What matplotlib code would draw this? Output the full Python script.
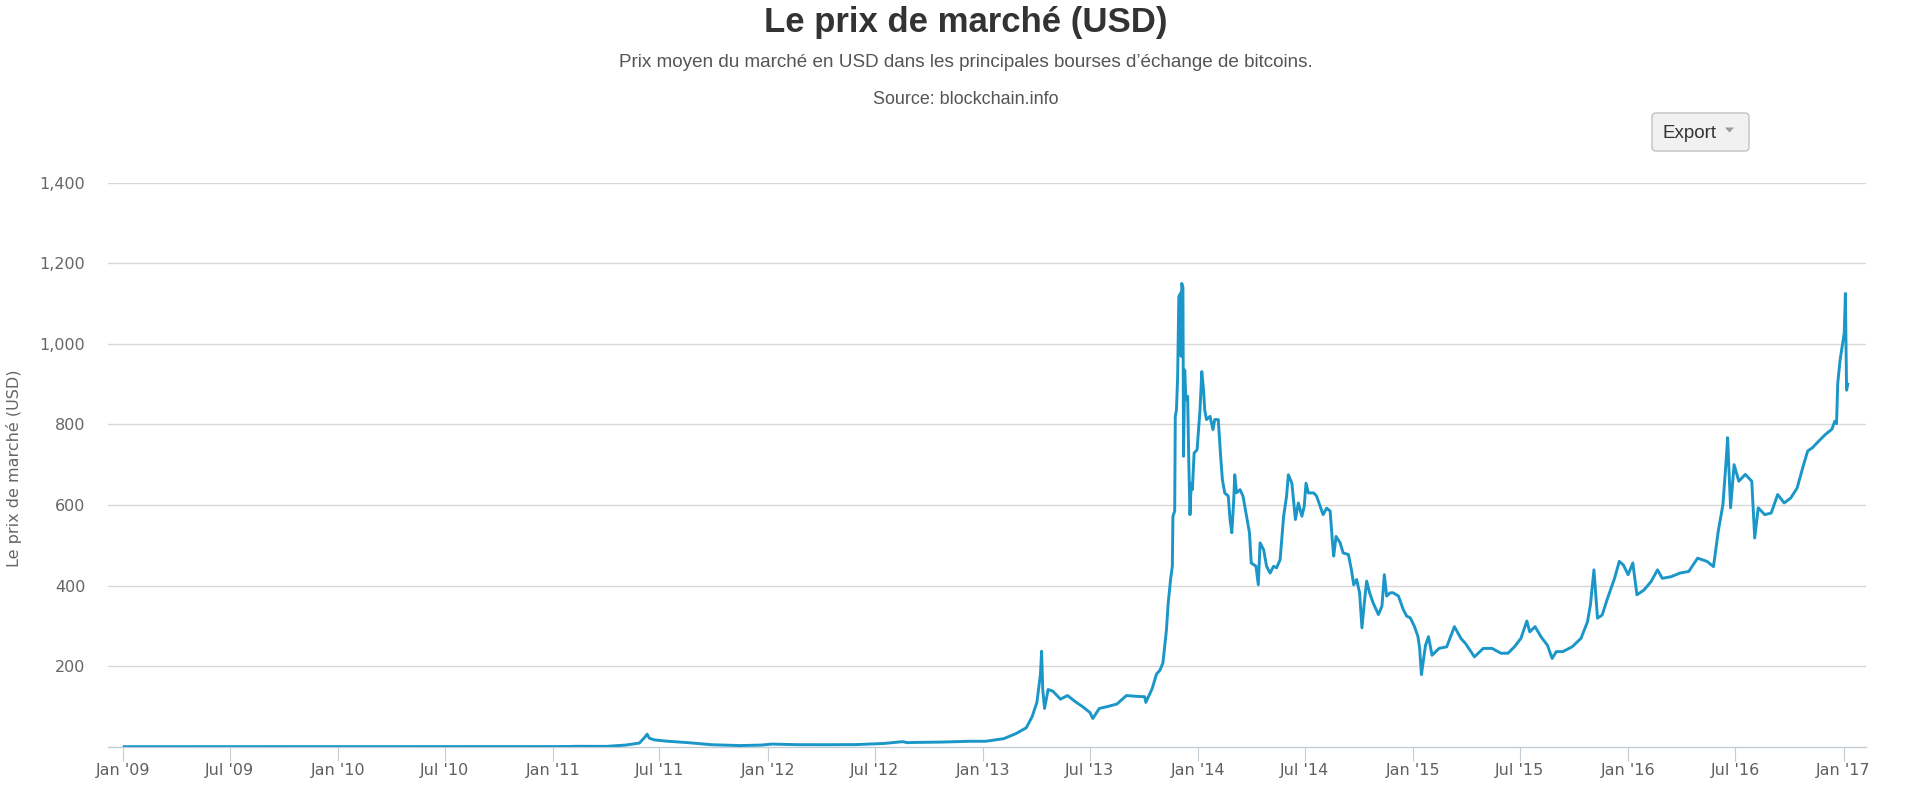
import numpy as np
import matplotlib
matplotlib.use("Agg")
import matplotlib.pyplot as plt
import matplotlib.dates as mdates
from matplotlib.patches import FancyBboxPatch, Polygon
from matplotlib.transforms import IdentityTransform
from matplotlib.ticker import FuncFormatter

# prix moyen du bitcoin (USD)
dates = [
    "2009-01-03", "2010-07-17", "2010-11-06", "2010-12-31",
    "2011-01-27", "2011-02-10", "2011-04-01", "2011-05-04", "2011-05-28", "2011-06-07",
    "2011-06-10", "2011-06-14", "2011-06-22", "2011-07-11", "2011-08-19", "2011-09-27",
    "2011-11-15", "2011-12-20",
    "2012-01-08", "2012-02-20", "2012-04-09", "2012-05-28", "2012-07-16", "2012-08-17",
    "2012-08-25", "2012-09-03", "2012-10-22", "2012-12-10",
    "2013-01-05", "2013-02-05", "2013-02-26", "2013-03-15", "2013-03-25", "2013-04-02",
    "2013-04-08", "2013-04-10", "2013-04-12", "2013-04-15", "2013-04-21", "2013-04-29",
    "2013-05-12", "2013-05-24", "2013-06-06", "2013-06-18", "2013-07-01", "2013-07-06",
    "2013-07-17", "2013-08-01", "2013-08-16", "2013-09-01", "2013-09-18", "2013-10-02",
    "2013-10-04", "2013-10-15", "2013-10-22", "2013-10-28", "2013-11-02", "2013-11-08",
    "2013-11-11", "2013-11-15", "2013-11-18", "2013-11-19", "2013-11-22", "2013-11-23",
    "2013-11-25", "2013-11-27", "2013-11-29", "2013-12-02", "2013-12-03", "2013-12-04",
    "2013-12-06", "2013-12-07", "2013-12-09", "2013-12-11", "2013-12-14", "2013-12-16",
    "2013-12-18", "2013-12-20", "2013-12-22", "2013-12-25", "2013-12-30",
    "2014-01-04", "2014-01-07", "2014-01-10", "2014-01-12", "2014-01-15", "2014-01-21",
    "2014-01-26", "2014-01-29", "2014-02-04", "2014-02-08", "2014-02-11", "2014-02-15",
    "2014-02-21", "2014-02-24", "2014-02-27", "2014-03-02", "2014-03-04", "2014-03-07",
    "2014-03-13", "2014-03-18", "2014-03-24", "2014-03-29", "2014-04-01", "2014-04-05",
    "2014-04-09", "2014-04-13", "2014-04-16", "2014-04-22", "2014-04-27", "2014-05-03",
    "2014-05-09", "2014-05-14", "2014-05-20", "2014-05-26", "2014-05-31", "2014-06-03",
    "2014-06-09", "2014-06-15", "2014-06-20", "2014-06-26", "2014-06-30", "2014-07-03",
    "2014-07-07", "2014-07-16", "2014-07-21", "2014-07-27", "2014-08-01", "2014-08-07",
    "2014-08-13", "2014-08-17", "2014-08-19", "2014-08-23", "2014-08-30", "2014-09-04",
    "2014-09-13", "2014-09-18", "2014-09-22", "2014-09-27", "2014-10-02", "2014-10-06",
    "2014-10-10", "2014-10-14", "2014-10-19", "2014-10-25", "2014-11-03", "2014-11-09",
    "2014-11-13", "2014-11-17", "2014-11-23", "2014-11-28", "2014-12-07", "2014-12-15",
    "2014-12-21", "2014-12-27",
    "2015-01-03", "2015-01-09", "2015-01-12", "2015-01-15", "2015-01-22", "2015-01-27",
    "2015-02-02", "2015-02-14", "2015-02-27", "2015-03-12", "2015-03-23", "2015-03-31",
    "2015-04-15", "2015-04-30", "2015-05-15", "2015-05-30", "2015-06-11", "2015-06-22",
    "2015-07-03", "2015-07-13", "2015-07-18", "2015-07-27", "2015-08-06", "2015-08-17",
    "2015-08-25", "2015-09-01", "2015-09-12", "2015-09-28", "2015-10-13", "2015-10-24",
    "2015-10-29", "2015-11-04", "2015-11-10", "2015-11-18", "2015-11-27", "2015-12-09",
    "2015-12-17", "2015-12-24",
    "2016-01-01", "2016-01-09", "2016-01-16", "2016-01-28", "2016-02-09", "2016-02-20",
    "2016-02-28", "2016-03-14", "2016-03-29", "2016-04-13", "2016-04-28", "2016-05-14",
    "2016-05-25", "2016-06-02", "2016-06-10", "2016-06-15", "2016-06-18", "2016-06-23",
    "2016-06-29", "2016-07-07", "2016-07-18", "2016-07-29", "2016-08-03", "2016-08-09",
    "2016-08-20", "2016-08-31", "2016-09-11", "2016-09-22", "2016-10-03", "2016-10-14",
    "2016-10-25", "2016-11-01", "2016-11-09", "2016-11-20", "2016-12-01", "2016-12-12",
    "2016-12-17", "2016-12-20", "2016-12-22", "2016-12-26",
    "2017-01-02", "2017-01-04", "2017-01-06", "2017-01-08",
]
prix = [
    0, 0.05, 0.3, 0.3,
    0.5, 1.0, 0.8, 4, 9, 25,
    31, 21, 17, 14, 10, 5,
    2.8, 4,
    6.5, 5, 4.9, 5.2, 8, 12.5,
    10, 10.5, 11.5, 13.5,
    13.5, 20, 33, 47, 75, 110,
    180, 237, 140, 95, 142, 138,
    118, 127, 112, 100, 85, 70,
    95, 100, 106, 127, 125, 124,
    110, 145, 180, 190, 208, 290,
    357, 415, 448, 572, 585, 820,
    836, 919, 1117, 1126, 969, 1150,
    1140, 721, 935, 861, 870, 704,
    576, 654, 638, 729, 737,
    836, 931, 886, 836, 812, 820,
    787, 812, 812, 721, 663, 630,
    622, 564, 531, 605, 675, 630,
    638, 622, 572, 531, 456, 452,
    448, 402, 506, 489, 448, 431,
    448, 444, 464, 572, 622, 675,
    654, 564, 605, 572, 597, 654,
    630, 630, 622, 597, 576, 592,
    585, 506, 473, 522, 506, 481,
    477, 440, 402, 415, 382, 295,
    357, 411, 382, 357, 328, 349,
    427, 374, 382, 382, 374, 341,
    324, 320,
    299, 274, 244, 179, 252, 273,
    227, 244, 248, 298, 269, 256,
    223, 244, 244, 232, 232, 248,
    269, 312, 285, 298, 273, 252,
    219, 236, 236, 248, 269, 310,
    352, 439, 319, 327, 368, 418,
    460, 451,
    427, 456, 377, 389, 410, 439,
    418, 422, 431, 435, 468, 460,
    447, 534, 601, 700, 767, 593,
    700, 659, 676, 659, 518, 593,
    576, 580, 626, 605, 617, 642,
    700, 734, 742, 759, 775, 788,
    808, 802, 902, 960,
    1026, 1125, 885, 900,
]

y_ticks = [200, 400, 600, 800, 1000, 1200, 1400]

titre = "Le prix de marché (USD)"
sous_titre = "Prix moyen du marché en USD dans les principales bourses d\u2019échange de bitcoins."
source = "Source: blockchain.info"

W, H = 1920, 785
fig = plt.figure(figsize=(W / 100, H / 100), dpi=100, facecolor="white")

# zone du graphique en pixels
left, right, top, bottom = 107.7, 1866, 182.7, 746.7
ax = fig.add_axes([left / W, 1 - bottom / H, (right - left) / W, (bottom - top) / H])

x = np.array(dates, dtype="datetime64[D]")
ax.plot(x, prix, color="#1a96c8", lw=2.1, solid_joinstyle="round", zorder=3)

ax.set_xlim(np.datetime64("2008-12-06"), np.datetime64("2017-02-08"))
ax.set_ylim(0, 1400)
ax.set_yticks(y_ticks)
ax.yaxis.set_major_formatter(FuncFormatter(lambda v, p: f"{int(v):,}"))
ax.grid(axis="y", color="#d8d8d8", lw=1.0)
ax.set_axisbelow(True)

ax.xaxis.set_major_locator(mdates.MonthLocator(bymonth=[1, 7]))
ax.xaxis.set_major_formatter(mdates.DateFormatter("%b '%y"))

for s in ["top", "right", "left"]:
    ax.spines[s].set_visible(False)
ax.spines["bottom"].set_color("#c4ccd4")
ax.spines["bottom"].set_linewidth(1.0)

ax.tick_params(axis="y", length=0, pad=16, labelsize=11.5, labelcolor="#666666")
ax.tick_params(axis="x", length=10, width=0.8, color="#c4ccd4", pad=2,
               labelsize=11.5, labelcolor="#606060")
for lab in ax.get_xticklabels() + ax.get_yticklabels():
    lab.set_family("DejaVu Sans")

fig.text(14 / W, 0.404, "Le prix de marché (USD)", rotation=90, ha="center", va="center",
         fontsize=11.5, color="#666666", family="DejaVu Sans")

cx = 966 / W
fig.text(cx, 1 - 32.3 / H, titre, ha="center", va="baseline", fontsize=25,
         fontweight="bold", color="#333333", family="Liberation Sans")
fig.text(cx, 1 - 66.7 / H, sous_titre, ha="center", va="baseline", fontsize=13.6,
         color="#555555", family="Liberation Sans")
fig.text(cx, 1 - 104.3 / H, source, ha="center", va="baseline", fontsize=12.9,
         color="#555555", family="Liberation Sans")

# bouton Export
btn = FancyBboxPatch((1652, H - 151), 97, 38, boxstyle="round,pad=0,rounding_size=4",
                     transform=IdentityTransform(), facecolor="#f1f1f1",
                     edgecolor="#c2c2c2", lw=1.0)
fig.add_artist(btn)
fig.text(1663 / W, 1 - 138.3 / H, "Export", ha="left", va="baseline", fontsize=13.5,
         color="#333333", family="Liberation Sans")
tri = Polygon([[1725, H - 127.5], [1734, H - 127.5], [1729.5, H - 132.5]], closed=True,
              transform=IdentityTransform(), facecolor="#999999", edgecolor="none")
fig.add_artist(tri)

fig.savefig("out.png", dpi=100, facecolor="white")
